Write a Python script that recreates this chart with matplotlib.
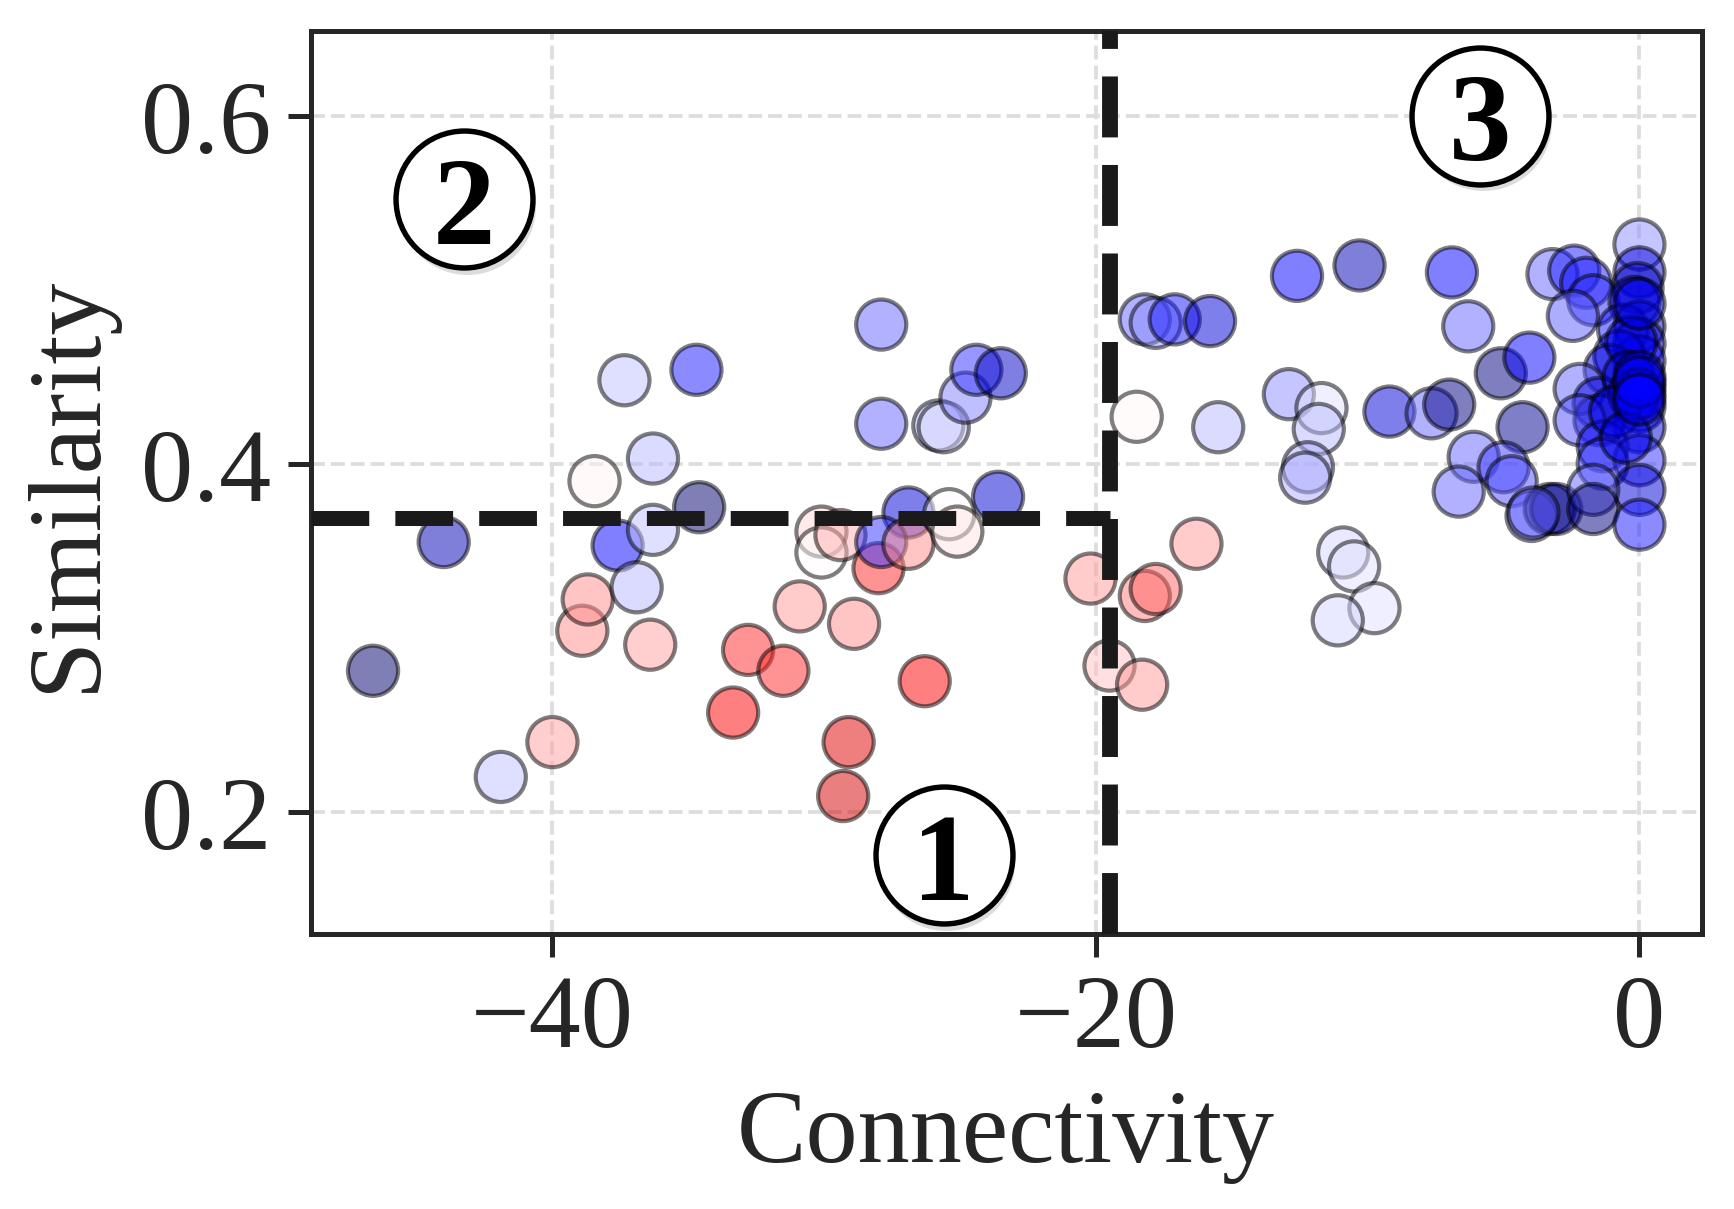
import numpy as np
import matplotlib
matplotlib.use("Agg")
import matplotlib.pyplot as plt
from matplotlib.transforms import offset_copy

plt.rcParams['font.family'] = ['Liberation Serif', 'DejaVu Serif']
plt.rcParams['axes.unicode_minus'] = True

# connectivity (x), similarity (y), colour score (-1 navy .. 0 white .. 1 dark red)
conn = [-46.6, -44.0, -41.9, -40.0, -38.9, -38.7, -38.45, -37.6, -37.35, -36.9,
        -36.4, -36.3, -36.3, -34.7, -34.6, -33.35, -32.8, -31.5, -30.9, -30.1,
        -30.1, -29.4, -29.1, -29.3, -28.9, -28.0, -27.9, -27.9, -26.9, -27.9,
        -26.9, -26.3, -25.8, -25.6, -25.4, -25.1, -24.8, -24.4, -23.5, -23.6,
        -20.2, -19.5, -18.5, -18.2, -17.8, -18.3, -18.2, -17.8, -17.1, -15.8,
        -16.3, -15.5, -12.6, -12.9, -11.7, -11.8, -12.2, -12.3, -10.3, -10.9,
        -10.5, -9.75, -11.1, -9.2, -7.65, -7.0, -6.9, -6.3, -6.1, -6.65,
        -5.1, -4.05, -4.3, -5.0, -4.7, -3.97, -3.3, -3.06,
        0.0, -3.2, -2.4, -1.96, -1.7, -2.45, 0.0, -0.07, -0.18, -0.6,
        0.0, 0.0, 0.0, -0.74, -1.1, 0.0, -2.2, -1.5, 0.0, 0.0,
        -1.47, -2.2, -1.35, 0.0, -1.35, 0.0, -1.7, -1.7, 0.0, -3.9,
        -0.3, -0.4, -0.2, 0.0, -0.9, 0.0, 0.0, -0.5, 0.0, 0.0]
sim = [0.281, 0.355, 0.220, 0.240, 0.304, 0.322, 0.390, 0.353, 0.448, 0.329,
       0.296, 0.403, 0.362, 0.454, 0.375, 0.257, 0.293, 0.281, 0.318, 0.361,
       0.349, 0.359, 0.240, 0.209, 0.308, 0.340, 0.480, 0.423, 0.372, 0.355,
       0.354, 0.275, 0.422, 0.421, 0.371, 0.361, 0.438, 0.454, 0.452, 0.381,
       0.334, 0.284, 0.427, 0.324, 0.328, 0.273, 0.483, 0.481, 0.483, 0.482,
       0.354, 0.421, 0.508, 0.440, 0.432, 0.420, 0.398, 0.392, 0.514, 0.349,
       0.341, 0.317, 0.310, 0.430, 0.429, 0.434, 0.510, 0.479, 0.404, 0.384,
       0.452, 0.461, 0.421, 0.398, 0.390, 0.370, 0.374, 0.374,
       0.526, 0.509, 0.511, 0.504, 0.494, 0.485, 0.510, 0.501, 0.493, 0.477,
       0.479, 0.469, 0.459, 0.462, 0.454, 0.444, 0.443, 0.435, 0.433, 0.421,
       0.425, 0.425, 0.410, 0.402, 0.400, 0.385, 0.385, 0.374, 0.365, 0.372,
       0.470, 0.450, 0.440, 0.492, 0.430, 0.450, 0.440, 0.415, 0.447, 0.437]
score = [-0.9, -0.7, -0.12, 0.18, 0.22, 0.22, 0.02, -0.5, -0.12, -0.14,
         0.18, -0.14, -0.12, -0.45, -0.9, 0.5, 0.42, 0.42, 0.2, 0.08,
         0.0, 0.15, 0.62, 0.66, 0.22, 0.42, -0.3, -0.3, -0.6, -0.4,
         0.22, 0.5, -0.14, -0.08, 0.0, 0.05, -0.25, -0.4, -0.65, -0.62,
         0.2, 0.12, 0.01, 0.25, 0.3, 0.2, -0.3, -0.22, -0.45, -0.6,
         0.2, -0.14, -0.5, -0.22, -0.06, -0.14, -0.16, -0.16, -0.7, -0.08,
         -0.06, -0.06, -0.08, -0.6, -0.3, -0.85, -0.5, -0.3, -0.3, -0.3,
         -0.85, -0.5, -0.8, -0.38, -0.35, -0.3, -0.85, -0.8,
         -0.22, -0.3, -0.45, -0.45, -0.42, -0.32, -0.6, -0.65, -0.6, -0.45,
         -0.7, -0.6, -0.5, -0.5, -0.6, -0.5, -0.3, -0.6, -0.5, -0.6,
         -0.65, -0.35, -0.45, -0.4, -0.4, -0.6, -0.3, -0.85, -0.45, -0.3,
         -0.55, -0.6, -0.5, -0.55, -0.55, -0.5, -0.5, -0.55, -0.5, -0.5]

conn_cut = -19.47
sim_cut = 0.369

regions = ['1', '2', '3']
region_x = [-25.6, -43.25, -5.85]
region_y = [0.175, 0.552, 0.600]

fig = plt.figure(figsize=(5.783, 4.033), dpi=300)
ax = fig.add_axes([0.179, 0.227, 0.802, 0.747])

ax.scatter(conn, sim, c=score, cmap='seismic', vmin=-1, vmax=1, s=145,
           alpha=0.5, edgecolors='black', linewidths=1.0, zorder=3)

ax.set_xlim(-48.9, 2.3)
ax.set_ylim(0.1295, 0.649)

dash = (3.85, 1.74)
ax.axvline(conn_cut, color='#1a1a1a', lw=3.8, dashes=dash, zorder=4)
ax.plot([-48.9, conn_cut], [sim_cut, sim_cut], color='#1a1a1a', lw=3.6,
        dashes=dash, zorder=4, solid_capstyle='butt', dash_capstyle='butt')

# circled region numbers (with a faint drop shadow)
shadow = offset_copy(ax.transData, fig=fig, x=0.6, y=-1.6, units='points')
ax.scatter(region_x, region_y, s=1080, marker='o', color='#dcdcdc',
           lw=0, transform=shadow, zorder=5)
ax.scatter(region_x, region_y, s=1080, marker='o', facecolor='white',
           edgecolor='black', lw=1.3, zorder=6)
for lab, rx, ry in zip(regions, region_x, region_y):
    ax.text(rx, ry, lab, fontsize=30, fontweight='bold', ha='center',
            va='center_baseline', color='black', zorder=7)

ax.set_xticks([-40, -20, 0])
ax.set_yticks([0.2, 0.4, 0.6])
ax.set_yticklabels(['0.2', '0.4', '0.6'])
ax.grid(True, color='#dddddd', ls='--', lw=0.9, zorder=0)
ax.tick_params(labelsize=25, length=5.5, width=1.2, colors='#262626', pad=4)
for sp in ax.spines.values():
    sp.set_color('#262626')
    sp.set_linewidth(1.2)

ax.set_xlabel('Connectivity', fontsize=25, color='#262626', labelpad=5)
ax.set_ylabel('Similarity', fontsize=25, color='#262626', labelpad=6)

fig.savefig('out.png', dpi=300)
